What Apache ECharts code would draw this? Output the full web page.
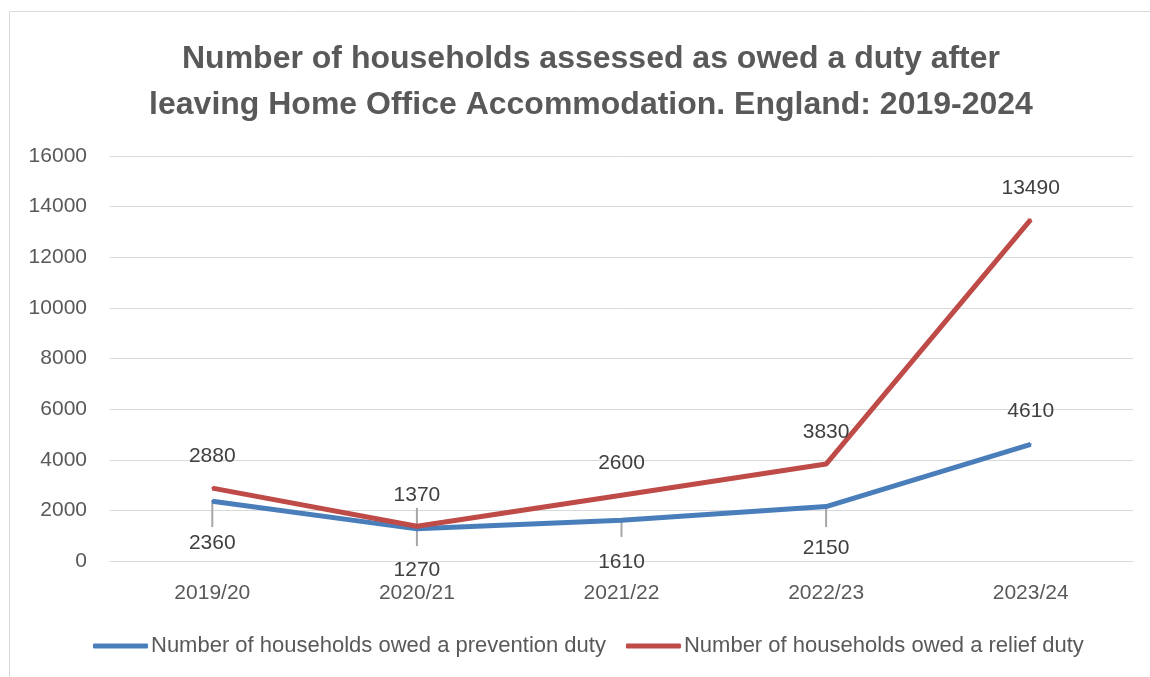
<!DOCTYPE html>
<html>
<head>
<meta charset="utf-8">
<script src="https://cdn.jsdelivr.net/npm/echarts@6/dist/echarts.min.js"></script>
<style>html,body{margin:0;padding:0;background:#fff;}#c{width:1150px;height:677px;}</style>
</head>
<body>
<div id="c"></div>
<script>
const titleText = 'Number of households assessed as owed a duty after\nleaving Home Office Accommodation. England: 2019-2024';
const categories = ['2019/20', '2020/21', '2021/22', '2022/23', '2023/24'];
const preventionName = 'Number of households owed a prevention duty';
const reliefName = 'Number of households owed a relief duty';
const prevention = [2360, 1270, 1610, 2150, 4610];
const relief = [2880, 1370, 2600, 3830, 13490];
// small grey vertical bars seen near the prevention points (high, low values)
const barHigh = [2410, 2100, 1620, 2130];
const barLow = [1340, 590, 950, 1340];
const yTicks = [0, 2000, 4000, 6000, 8000, 10000, 12000, 14000, 16000];

const FONT = 'Liberation Sans';
const chart = echarts.init(document.getElementById('c'));
const preventionData = prevention.map((v, i) => i === prevention.length - 1
  ? { value: v, label: { position: 'top', distance: 22 } }
  : { value: v });

chart.setOption({
  animation: false,
  backgroundColor: '#fff',
  graphic: [{
    type: 'rect', shape: { x: 9.5, y: 11.5, width: 1160, height: 700 },
    style: { fill: 'none', stroke: '#d9d9d9', lineWidth: 1 }, silent: true, z: -1
  }],
  title: {
    text: titleText, left: 586, textAlign: 'center', top: 31,
    textStyle: { fontFamily: FONT, fontWeight: 'bold', fontSize: 32, color: '#595959', lineHeight: 46 }
  },
  grid: { left: 110, right: 17, top: 156, bottom: 116, containLabel: false },
  legend: {
    bottom: 15, left: 88, itemGap: 20, itemWidth: 55, itemHeight: 5, icon: 'roundRect',
    textStyle: { fontFamily: FONT, fontSize: 22, color: '#595959', padding: [0, 0, 0, -2] },
    data: [
      { name: preventionName, itemStyle: { color: '#4a7ebb' } },
      { name: reliefName, itemStyle: { color: '#be4b48' } }
    ]
  },
  xAxis: {
    type: 'category', data: categories, boundaryGap: true,
    axisLine: { lineStyle: { color: '#d9d9d9', width: 1 } },
    axisTick: { show: false },
    axisLabel: { fontFamily: FONT, fontSize: 21, color: '#595959', margin: 22 }
  },
  yAxis: {
    type: 'value', min: yTicks[0], max: yTicks[yTicks.length - 1], interval: 2000,
    axisLine: { show: false }, axisTick: { show: false },
    splitLine: { lineStyle: { color: '#d9d9d9', width: 1 } },
    axisLabel: { fontFamily: FONT, fontSize: 21, color: '#595959', margin: 23, formatter: v => String(v) }
  },
  series: [
    {
      name: preventionName, type: 'line', data: preventionData,
      color: '#4a7ebb', symbol: 'circle', symbolSize: 2, showSymbol: true,
      itemStyle: { color: '#4a7ebb' }, lineStyle: { width: 5, color: '#4a7ebb' },
      label: { show: true, position: 'bottom', distance: 30, fontFamily: FONT, fontSize: 21, color: '#404040' },
      z: 3
    },
    {
      name: reliefName, type: 'line', data: relief,
      color: '#be4b48', symbol: 'circle', symbolSize: 2, showSymbol: true,
      itemStyle: { color: '#be4b48' }, lineStyle: { width: 5, color: '#be4b48' },
      label: { show: true, position: 'top', distance: 20, fontFamily: FONT, fontSize: 21, color: '#404040' },
      z: 4
    },
    {
      type: 'custom', silent: true, z: 2,
      data: barHigh.map((h, i) => [i, h, barLow[i]]),
      renderItem: function (params, api) {
        const p1 = api.coord([api.value(0), api.value(1)]);
        const p2 = api.coord([api.value(0), api.value(2)]);
        return { type: 'line', shape: { x1: p1[0], y1: p1[1], x2: p2[0], y2: p2[1] },
          style: { stroke: '#a6a6a6', lineWidth: 2 } };
      }
    }
  ]
});
</script>
</body>
</html>
